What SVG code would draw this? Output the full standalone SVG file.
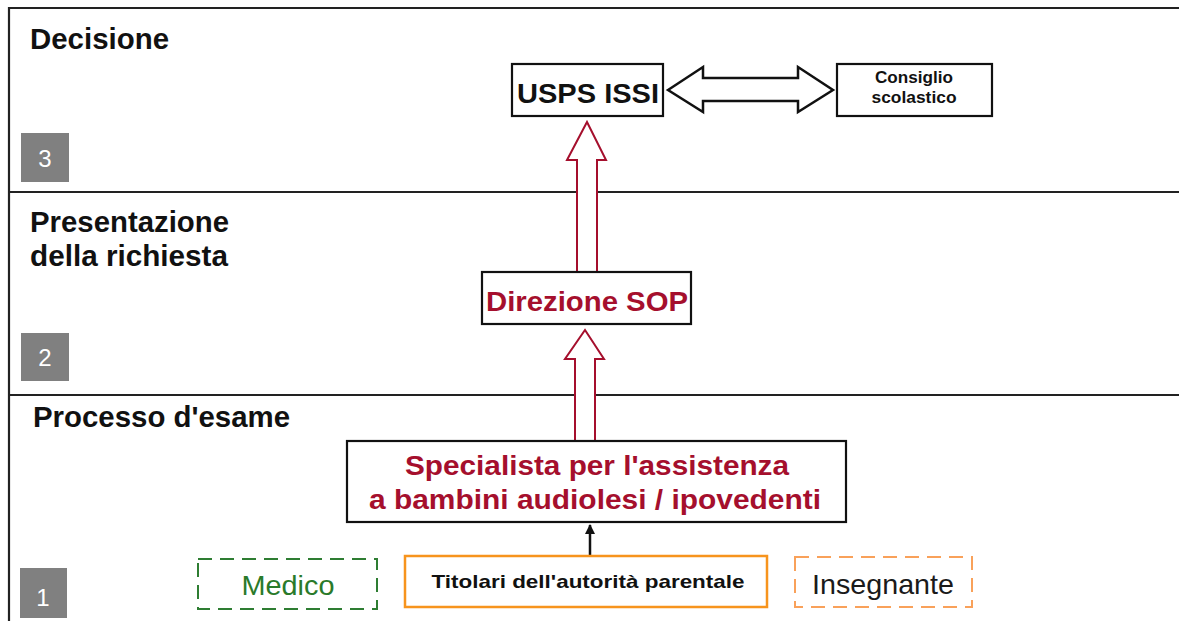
<svg xmlns="http://www.w3.org/2000/svg" width="1179" height="621" viewBox="0 0 1179 621">
<style>
  .frame{stroke:#222;stroke-width:2.2;fill:none}
  .box{fill:#fff;stroke:#111;stroke-width:2.2}
  .sq{fill:#808080}
  .num{font-family:"Liberation Sans",Arial,sans-serif;font-size:24px;fill:#fff;text-anchor:middle}
  .lane{font-family:"Liberation Sans",Arial,sans-serif;font-size:29px;font-weight:bold;fill:#111}
  .big{font-family:"Liberation Sans",Arial,sans-serif;font-size:28px;font-weight:bold;text-anchor:middle}
  .red{fill:#a50f2d}
  .redarrow{fill:#fff;stroke:#a50f2d;stroke-width:2}
  .blkarrow{fill:#fff;stroke:#111;stroke-width:2.5}
  .small{font-family:"Liberation Sans",Arial,sans-serif;font-size:17px;font-weight:bold;text-anchor:middle;fill:#111}
</style>
<defs>
  <marker id="ah" viewBox="0 0 10 10" refX="9" refY="5" markerWidth="4" markerHeight="4" orient="auto">
    <path d="M0,0 L10,5 L0,10 z" fill="#111"/>
  </marker>
</defs>
<rect width="1179" height="621" fill="#fff"/>
<g id="frame">
  <path class="frame" d="M9,621 V8 H1179 M9,192 H1179 M9,395 H1179"/>
</g>
<g id="lane3">
  <text class="lane" x="30" y="49" textLength="139" lengthAdjust="spacingAndGlyphs">Decisione</text>
  <rect class="sq" x="21" y="133" width="48" height="49"/>
  <text class="num" x="45" y="167">3</text>
</g>
<g id="lane2">
  <text class="lane" x="30" y="232" textLength="199" lengthAdjust="spacingAndGlyphs">Presentazione</text>
  <text class="lane" x="30" y="266" textLength="198" lengthAdjust="spacingAndGlyphs">della richiesta</text>
  <rect class="sq" x="21" y="333" width="48" height="48"/>
  <text class="num" x="45" y="366">2</text>
</g>
<g id="lane1">
  <text class="lane" x="33" y="427" textLength="257" lengthAdjust="spacingAndGlyphs">Processo d'esame</text>
  <rect class="sq" x="20" y="568" width="47" height="50"/>
  <text class="num" x="43" y="606">1</text>
</g>
<g id="connectors">
  <polygon class="blkarrow" points="668,90 703,67 703,78 798,78 798,67 833,90 798,112 798,101 703,101 703,112"/>
  <polygon class="redarrow" points="587,122 606,160 597,160 597,272 577,272 577,160 567,160"/>
  <polygon class="redarrow" points="585,330 604,359 595,359 595,441 575,441 575,359 565,359"/>
  <line x1="590" y1="556" x2="590" y2="525" stroke="#111" stroke-width="2.5" marker-end="url(#ah)"/>
</g>
<g id="usps">
  <rect class="box" x="512" y="64" width="151" height="52"/>
  <text class="big" x="588" y="103" fill="#111" textLength="142" lengthAdjust="spacingAndGlyphs">USPS ISSI</text>
</g>
<g id="consiglio">
  <rect class="box" x="837" y="64" width="155" height="52"/>
  <text class="small" x="914" y="83" textLength="78" lengthAdjust="spacingAndGlyphs">Consiglio</text>
  <text class="small" x="914" y="103" textLength="85" lengthAdjust="spacingAndGlyphs">scolastico</text>
</g>
<g id="direzione">
  <rect class="box" x="482" y="272" width="209" height="52"/>
  <text class="big red" x="587" y="311" textLength="202" lengthAdjust="spacingAndGlyphs">Direzione SOP</text>
</g>
<g id="specialista">
  <rect class="box" x="347" y="441" width="499" height="81"/>
  <text class="big red" x="597" y="475" textLength="384" lengthAdjust="spacingAndGlyphs">Specialista per l'assistenza</text>
  <text class="big red" x="595" y="509" textLength="452" lengthAdjust="spacingAndGlyphs">a bambini audiolesi / ipovedenti</text>
</g>
<g id="medico">
  <rect x="198" y="559" width="179" height="50" fill="#fff" stroke="#2e7d32" stroke-width="2" stroke-dasharray="14,8"/>
  <text x="288" y="595" font-family="Liberation Sans,Arial,sans-serif" font-size="28" text-anchor="middle" fill="#2a7a2a" textLength="93" lengthAdjust="spacingAndGlyphs">Medico</text>
</g>
<g id="titolari">
  <rect x="405" y="556" width="362" height="51" fill="#fff" stroke="#f7941d" stroke-width="2.5"/>
  <text x="588" y="588" font-family="Liberation Sans,Arial,sans-serif" font-size="19" font-weight="bold" text-anchor="middle" fill="#111" textLength="313" lengthAdjust="spacingAndGlyphs">Titolari dell'autorità parentale</text>
</g>
<g id="insegnante">
  <rect x="795" y="557" width="177" height="50" fill="#fff" stroke="#f9a15a" stroke-width="2" stroke-dasharray="14,8"/>
  <text x="883" y="594" font-family="Liberation Sans,Arial,sans-serif" font-size="28" text-anchor="middle" fill="#1a1a1a" textLength="142" lengthAdjust="spacingAndGlyphs">Insegnante</text>
</g>
</svg>
